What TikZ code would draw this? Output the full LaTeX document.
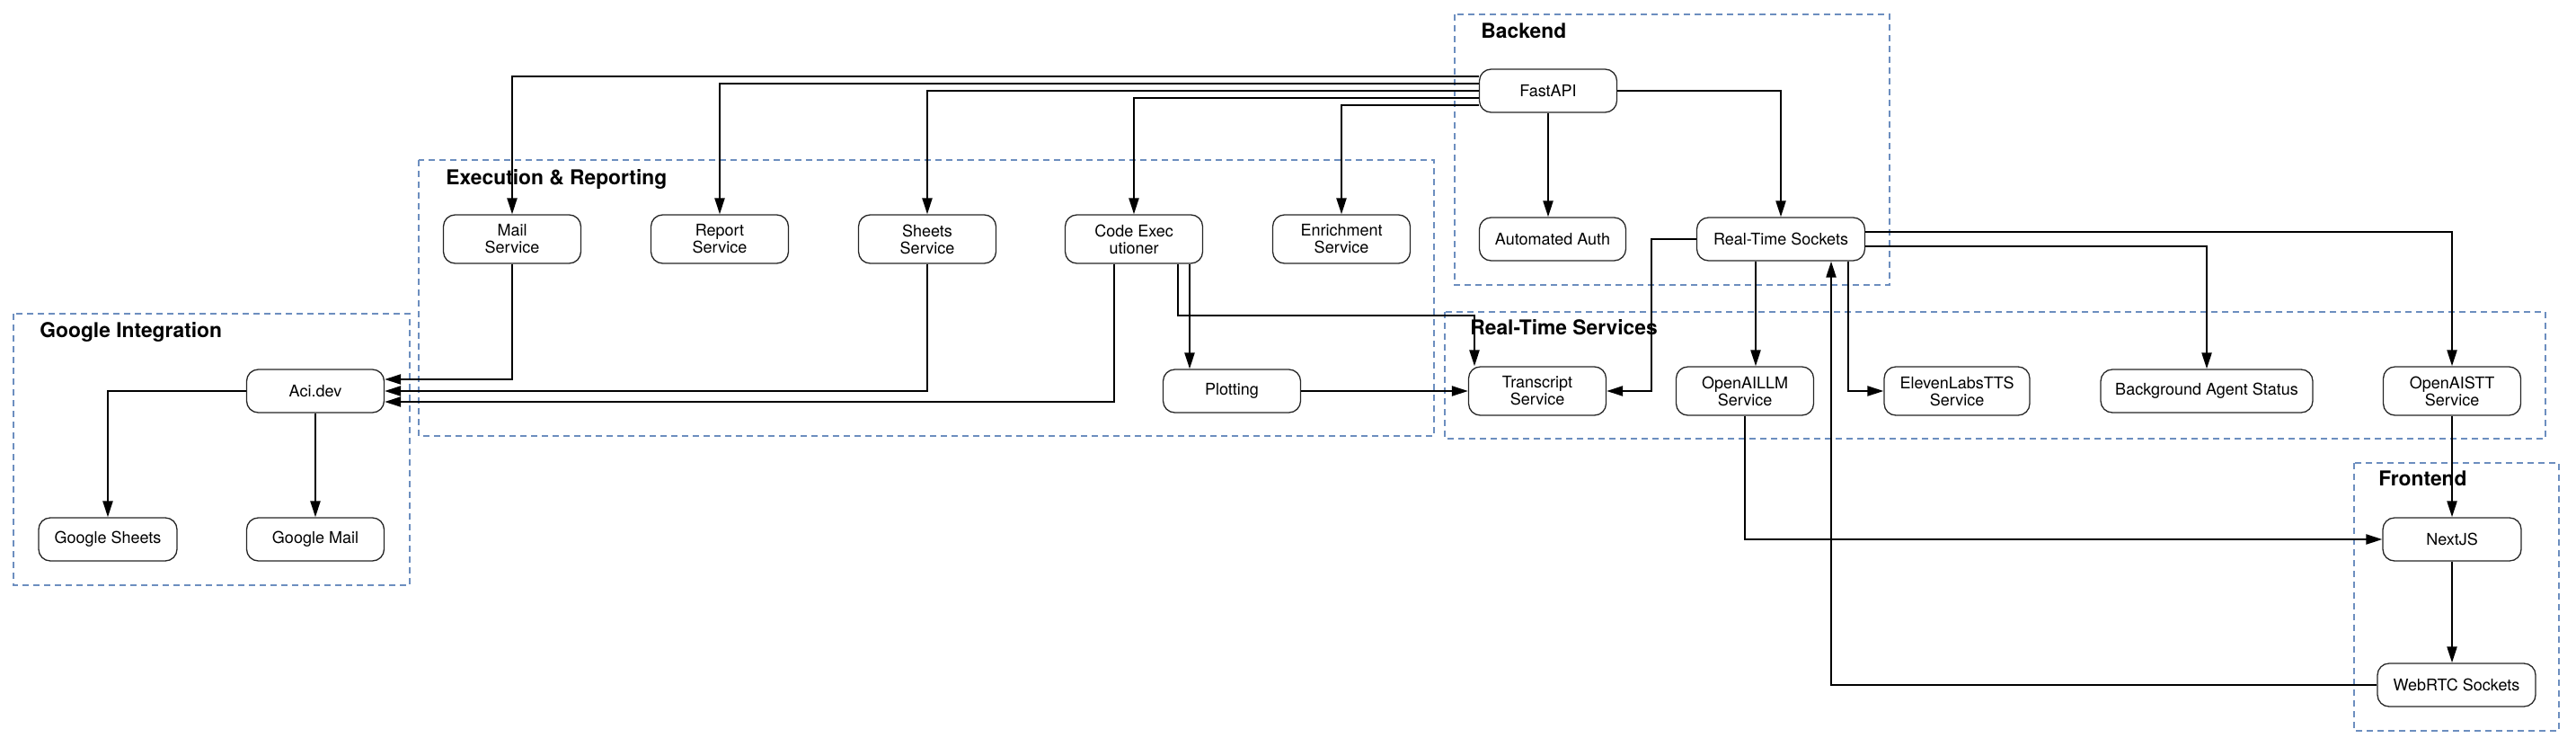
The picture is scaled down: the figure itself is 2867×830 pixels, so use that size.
\documentclass[tikz,border=0pt]{standalone}
\usepackage{fontspec}
\setmainfont{TeX Gyre Heros}
\usetikzlibrary{arrows.meta,calc}
\definecolor{clusterblue}{HTML}{6C8EBF}
\begin{document}
\begin{tikzpicture}[x=0.5pt,y=-0.5pt,
  box/.style={draw=black!85, line width=0.65pt, rounded corners=6.5pt, fill=white, align=center, inner sep=1pt, minimum width=76.5pt, minimum height=24pt, font=\fontsize{9}{9.5}\selectfont},
  tall/.style={minimum height=27pt},
  edge/.style={line width=1.1pt, -{Triangle[length=9pt,width=5.5pt]}},
  cluster/.style={draw=clusterblue, line width=0.6pt, dash pattern=on 3.5pt off 2.5pt},
  ctitle/.style={anchor=base west, inner sep=0pt, font=\bfseries\fontsize{11.4}{13}\selectfont}]
\useasboundingbox (0,0) rectangle (2867,830);

% clusters
\draw[cluster] (15,349) rectangle (456,651);
\draw[cluster] (466,178) rectangle (1596,485);
\draw[cluster] (1619,16) rectangle (2103,317);
\draw[cluster] (1608,347) rectangle (2833,488);
\draw[cluster] (2620,515) rectangle (2848,813);
\node[ctitle] (tgoogle) at (44,375) {Google Integration};
\node[ctitle] (texec) at (496,205) {Execution \& Reporting};
\node[ctitle] (tback) at (1648,42) {Backend};
\node[ctitle] (trt) at (1636,372) {Real-Time Services};
\node[ctitle] (tfront) at (2647,540) {Frontend};

% nodes
\node[box,tall] (mail) at (570,266) {Mail\\Service};
\node[box,tall] (report) at (801,266) {Report\\Service};
\node[box,tall] (sheets) at (1032,266) {Sheets\\Service};
\node[box,tall] (codeexec) at (1262,266) {Code Exec\\utioner};
\node[box,tall] (enrich) at (1493,266) {Enrichment\\Service};
\node[box] (fastapi) at (1723,101) {FastAPI};
\node[box,minimum width=81.5pt] (auth) at (1728,266) {Automated Auth};
\node[box,minimum width=93.5pt] (rts) at (1982,266) {Real-Time Sockets};
\node[box] (aci) at (351,435) {Aci.dev};
\node[box,minimum width=77pt] (gsheets) at (120,600) {Google Sheets};
\node[box] (gmail) at (351,600) {Google Mail};
\node[box] (plotting) at (1371,435) {Plotting};
\node[box,tall] (transcript) at (1711,435) {Transcript\\Service};
\node[box,tall] (openaillm) at (1942,435) {OpenAILLM\\Service};
\node[box,tall,minimum width=81pt] (eleven) at (2178,435) {ElevenLabsTTS\\Service};
\node[box,minimum width=118pt] (bgagent) at (2456,435) {Background Agent Status};
\node[box,tall] (openaistt) at (2729,435) {OpenAISTT\\Service};
\node[box,minimum width=77pt] (nextjs) at (2729,600) {NextJS};
\node[box,minimum width=88pt] (webrtc) at (2734,762) {WebRTC Sockets};

% edges from FastAPI
\draw[edge] ([yshift=8pt]fastapi.west) -| (mail.north);
\draw[edge] ([yshift=4pt]fastapi.west) -| (report.north);
\draw[edge] (fastapi.west) -| (sheets.north);
\draw[edge] ([yshift=-4pt]fastapi.west) -| (codeexec.north);
\draw[edge] ([yshift=-8pt]fastapi.west) -| (enrich.north);
\draw[edge] (fastapi.east) -| (rts.north);
\draw[edge] (fastapi.south) -- (fastapi.south |- auth.north);

% execution edges
\draw[edge] (mail.south) |- ([yshift=6.5pt]aci.east);
\draw[edge] (sheets.south) |- (aci.east);
\draw[edge] ([xshift=-11pt]codeexec.south) |- ([yshift=-6pt]aci.east);
\draw[edge] ([xshift=24.5pt]codeexec.south) -- ++(0,57) -| ([xshift=-35pt]transcript.north);
\draw[edge] ([xshift=31pt]codeexec.south) -- ([xshift=31pt]codeexec.south |- plotting.north);
\draw[edge] (plotting.east) -- (transcript.west);

% google edges
\draw[edge] (aci.west) -| (gsheets.north);
\draw[edge] (aci.south) -- (gmail.north);

% real-time edges
\draw[edge] (rts.west) -- ++(-50,0) |- (transcript.east);
\draw[edge] ([xshift=-14pt]rts.south) -- ([xshift=-14pt]rts.south |- openaillm.north);
\draw[edge] ([xshift=37.5pt]rts.south) |- (eleven.west);
\draw[edge] ([yshift=-4pt]rts.east) -| (bgagent.north);
\draw[edge] ([yshift=4pt]rts.east) -| (openaistt.north);

% frontend edges
\draw[edge] (openaillm.south) |- (nextjs.west);
\draw[edge] (openaistt.south) -- (nextjs.north);
\draw[edge] (nextjs.south) -- (nextjs.south |- webrtc.north);
\draw[edge] (webrtc.west) -| ([xshift=28pt]rts.south);
\end{tikzpicture}
\end{document}
